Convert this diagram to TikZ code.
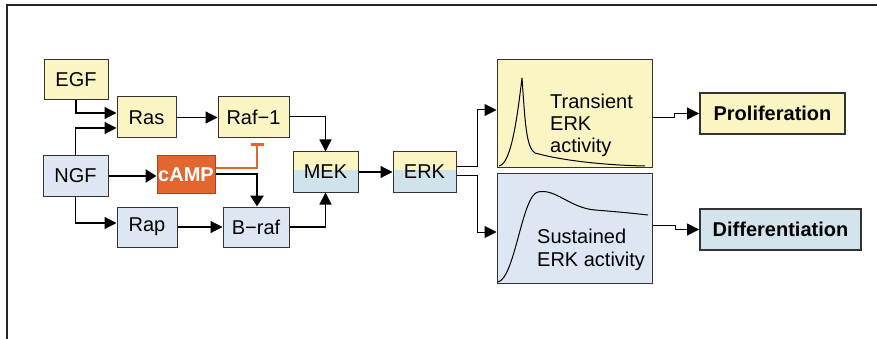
\documentclass[tikz,border=0pt]{standalone}
\usepackage{fontspec}
\setmainfont{Liberation Sans}
\usetikzlibrary{arrows.meta, calc}

\definecolor{boxyellow}{RGB}{250,245,195}
\definecolor{boxblue}{RGB}{221,231,243}
\definecolor{mekblue}{RGB}{208,226,236}
\definecolor{outblue}{RGB}{211,228,237}
\definecolor{campor}{RGB}{226,102,46}

\begin{document}
\begin{tikzpicture}[
  x=1pt, y=-1pt,
  font=\fontsize{20}{22}\selectfont,
  block/.style = {draw=black!80, line width=1pt, minimum height=40pt, inner sep=0pt, align=center},
  yblock/.style = {block, fill=boxyellow},
  bblock/.style = {block, fill=boxblue},
  splitblock/.style = {block, fill=mekblue,
    path picture={\fill[boxyellow] (path picture bounding box.north west) rectangle ([yshift=-18pt]path picture bounding box.north east);}},
  outblock/.style = {block, line width=1.8pt, minimum height=41pt, font=\fontsize{20}{22}\selectfont\bfseries},
  arrow/.style = {line width=1.2pt, -{Triangle[length=12pt,width=12pt]}},
  small arrow/.style = {line width=1pt, -{Triangle[length=12pt,width=12pt]}},
  thick arrow/.style = {line width=2.8pt, -{Triangle[length=11pt,width=13pt]}},
  inhibit/.style = {draw=campor, line width=2.4pt, -{Bar[width=13pt]}}
]
  \useasboundingbox (0,0) rectangle (877,339);

  % Frame
  \draw[line width=1.5pt, black!85] (7,339) -- (7,5) -- (877,5);

  % Growth factors
  \node[yblock, minimum width=64pt] (egf) at (76,80) {EGF};
  \node[bblock, minimum width=65pt] (ngf) at (75.5,176) {NGF};

  % Small G-proteins and kinases
  \node[yblock, minimum width=59pt, minimum height=41pt] (ras) at (146.5,117.5) {Ras};
  \node[yblock, minimum width=71pt, minimum height=41pt] (raf1) at (253.5,117.5) {Raf−1};
  \node[bblock, minimum width=60pt] (rap) at (147,227) {Rap};
  \node[bblock, minimum width=66pt] (braf) at (256,227) {B−raf};
  \node[block, fill=campor, draw=campor!70!black, minimum width=58pt, minimum height=37pt,
        text=white, font=\fontsize{20}{22}\selectfont\bfseries] (camp) at (186,174.5) {cAMP};
  \node[splitblock, minimum width=65pt] (mek) at (325.5,172) {MEK};
  \node[splitblock, minimum width=63pt] (erk) at (424.5,172) {ERK};

  % ERK activity panels
  \node[yblock, minimum width=155pt, minimum height=108pt] (trans) at (574.5,114) {};
  \node[anchor=north west, inner sep=0pt, align=left] (transtxt) at (550,93.5) {Transient\\ERK\\activity};
  \draw[line width=1pt] (499,166) .. controls (512,164) and (518,110) .. (522,78)
    .. controls (525,120) and (526,148) .. (535,153)
    .. controls (560,160) and (600,165) .. (645,166);

  \node[bblock, minimum width=155pt, minimum height=109pt] (sust) at (574.5,228.5) {};
  \node[anchor=north west, inner sep=0pt, align=left] (susttxt) at (537,228.5) {Sustained\\[1pt]ERK activity};
  \draw[line width=1pt] (498,282) .. controls (515,278) and (522,195) .. (538,192)
    .. controls (555,188) and (570,208) .. (595,210)
    .. controls (620,212) and (630,213) .. (648,215);

  % Cell fates
  \node[outblock, fill=boxyellow, minimum width=145pt] (prolif) at (772.5,113.5) {Proliferation};
  \node[outblock, fill=outblue, minimum width=161pt] (diff) at (780.5,229.5) {Differentiation};

  % Upstream signalling
  \draw[arrow] (egf.south) |- ([yshift=4.5pt]ras.west);
  \draw[arrow] (ngf.north) |- ([yshift=-10.5pt]ras.west);
  \draw[arrow] (ngf.south) |- ([yshift=4pt]rap.west);
  \draw[thick arrow] (ngf.east) -- (ngf.east -| camp.west);
  \draw[arrow] (ras) -- (raf1);
  \draw[arrow] (rap) -- (braf);
  \draw[thick arrow] ([yshift=0.5pt]camp.east) -| ([xshift=1pt]braf.north);
  \draw[inhibit] ([yshift=6.5pt]camp.east) -| ([xshift=3.5pt,yshift=-5pt]raf1.south);

  % MAPK cascade
  \draw[arrow] ([yshift=1pt]raf1.east) -| (mek.north);
  \draw[arrow] (braf.east) -| (mek.south);
  \draw[arrow] (mek.east) -- (erk.west);
  \draw[small arrow] ([yshift=5pt]erk.east) -- ++(21pt,0) |- ([yshift=4pt]trans.west);
  \draw[small arrow] ([yshift=-4pt]erk.east) -- ++(21pt,0) |- ([yshift=-3.5pt]sust.west);

  % Outcomes
  \draw[small arrow] ([yshift=-3.5pt]trans.east) -- ++(22pt,0) |- (prolif.west);
  \draw[small arrow] ([yshift=3.5pt]sust.east) -- ++(23pt,0) |- (diff.west);

\end{tikzpicture}
\end{document}
